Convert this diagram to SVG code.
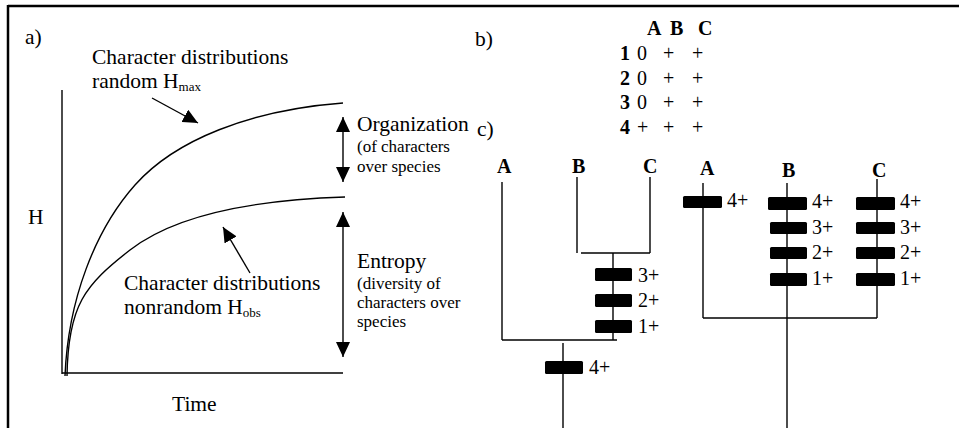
<svg xmlns="http://www.w3.org/2000/svg" width="959" height="428" viewBox="0 0 959 428">
<style>
text{font-family:"Liberation Serif","Times New Roman",serif;fill:#000}
.t{font-size:21.5px}
.s{font-size:17px}
.sub{font-size:13px}
.m{font-size:20px}
.b{font-size:20px;font-weight:bold}
.ln{stroke:#000;stroke-width:1.4;fill:none}
.bar{fill:#000}
</style>
<defs>
<marker id="tri" markerUnits="userSpaceOnUse" viewBox="0 0 15 14" refX="15" refY="7" markerWidth="15" markerHeight="14" orient="auto-start-reverse">
<path d="M0,0 L15,7 L0,14 z" fill="#000"/>
</marker>
</defs>
<g id="frame">
<line x1="8" y1="6" x2="959" y2="6" stroke="#000" stroke-width="2.5"/>
<line x1="8" y1="5" x2="8" y2="428" stroke="#000" stroke-width="2.5"/>
</g>
<g id="panel-a">
<text class="t" x="25" y="44">a)</text>
<g id="axes">
<line class="ln" x1="62" y1="90" x2="62" y2="374"/>
<line class="ln" x1="62" y1="373" x2="343" y2="373"/>
<text class="t" x="28" y="224">H</text>
<text class="t" x="172" y="411">Time</text>
</g>
<g id="curve-max"><path class="ln" d="M65,376 C68,300 95,230 135,185 S250,110 343,103"/></g>
<g id="curve-obs"><path class="ln" d="M67,376 C68,305 85,285 130,250 S250,200 345,197"/></g>
<g id="label-max">
<text class="t" x="92" y="64">Character distributions</text>
<text class="t" x="92" y="88">random H<tspan class="sub" dy="3">max</tspan></text>
</g>
<g id="label-obs">
<text class="t" x="124" y="290">Character distributions</text>
<text class="t" x="124" y="314">nonrandom H<tspan class="sub" dy="3">obs</tspan></text>
</g>
<g id="label-org">
<text class="t" x="357" y="131">Organization</text>
<text class="s" x="357" y="152">(of characters</text>
<text class="s" x="357" y="172">over species</text>
</g>
<g id="label-entropy">
<text class="t" x="357" y="268">Entropy</text>
<text class="s" x="357" y="289">(diversity of</text>
<text class="s" x="357" y="308">characters over</text>
<text class="s" x="357" y="327">species</text>
</g>
<g id="arrows-a">
<line class="ln" x1="152" y1="98" x2="198" y2="123" marker-end="url(#tri)"/>
<line class="ln" x1="250" y1="273" x2="223" y2="227" marker-end="url(#tri)"/>
<line class="ln" x1="343" y1="117" x2="343" y2="182" marker-start="url(#tri)" marker-end="url(#tri)"/>
<line class="ln" x1="343" y1="212" x2="343" y2="357" marker-start="url(#tri)" marker-end="url(#tri)"/>
</g>
</g>
<g id="panel-b">
<text class="t" x="475" y="46">b)</text>
<g id="table">
<text class="b" x="647" y="35">A</text>
<text class="b" x="670" y="35">B</text>
<text class="b" x="698" y="35">C</text>
<text class="b" x="620" y="60">1</text>
<text class="b" x="620" y="85">2</text>
<text class="b" x="620" y="109">3</text>
<text class="b" x="620" y="134">4</text>
<text class="m" x="637" y="60">0</text><text class="m" x="663" y="60">+</text><text class="m" x="692" y="60">+</text>
<text class="m" x="637" y="85">0</text><text class="m" x="663" y="85">+</text><text class="m" x="692" y="85">+</text>
<text class="m" x="637" y="109">0</text><text class="m" x="663" y="109">+</text><text class="m" x="692" y="109">+</text>
<text class="m" x="637" y="134">+</text><text class="m" x="663" y="134">+</text><text class="m" x="692" y="134">+</text>
</g>
</g>
<g id="panel-c">
<text class="t" x="477" y="136">c)</text>
<g id="tree1">
<text class="b" x="497" y="173">A</text>
<text class="b" x="572" y="173">B</text>
<text class="b" x="643" y="173">C</text>
<g id="tree1-edges">
<line class="ln" x1="502" y1="182" x2="502" y2="340"/>
<line class="ln" x1="577" y1="177" x2="577" y2="253"/>
<line class="ln" x1="650" y1="177" x2="650" y2="253"/>
<line class="ln" x1="581" y1="253" x2="650" y2="253" stroke="#444"/>
<line class="ln" x1="613" y1="253" x2="613" y2="340"/>
<line class="ln" x1="502" y1="340" x2="617" y2="340"/>
<line class="ln" x1="563" y1="343" x2="563" y2="428"/>
</g>
<rect class="bar" x="595" y="268" width="37" height="13" rx="1.5"/><text class="m" x="638" y="282">3+</text>
<rect class="bar" x="595" y="294" width="37" height="13" rx="1.5"/><text class="m" x="638" y="307">2+</text>
<rect class="bar" x="595" y="320" width="37" height="13" rx="1.5"/><text class="m" x="638" y="333">1+</text>
<rect class="bar" x="545" y="361" width="38" height="13" rx="1.5"/><text class="m" x="589" y="374">4+</text>
</g>
<g id="tree2">
<text class="b" x="700" y="175">A</text>
<text class="b" x="782" y="177">B</text>
<text class="b" x="872" y="177">C</text>
<g id="tree2-edges">
<line class="ln" x1="703" y1="183" x2="703" y2="318"/>
<line class="ln" x1="787" y1="183" x2="787" y2="428"/>
<line class="ln" x1="877" y1="179" x2="877" y2="318"/>
<line class="ln" x1="703" y1="318" x2="877" y2="318"/>
</g>
<rect class="bar" x="683" y="196" width="39" height="12" rx="1.5"/><text class="m" x="727" y="207">4+</text>
<rect class="bar" x="768" y="197" width="39" height="13" rx="1.5"/><text class="m" x="812" y="208">4+</text>
<rect class="bar" x="770" y="222" width="37" height="12" rx="1.5"/><text class="m" x="812" y="234">3+</text>
<rect class="bar" x="770" y="247" width="37" height="12" rx="1.5"/><text class="m" x="812" y="259">2+</text>
<rect class="bar" x="770" y="273" width="37" height="13" rx="1.5"/><text class="m" x="812" y="285">1+</text>
<rect class="bar" x="856" y="197" width="39" height="13" rx="1.5"/><text class="m" x="900" y="208">4+</text>
<rect class="bar" x="856" y="222" width="39" height="12" rx="1.5"/><text class="m" x="900" y="234">3+</text>
<rect class="bar" x="856" y="247" width="39" height="12" rx="1.5"/><text class="m" x="900" y="259">2+</text>
<rect class="bar" x="856" y="273" width="39" height="13" rx="1.5"/><text class="m" x="900" y="285">1+</text>
</g>
</g>
</svg>
